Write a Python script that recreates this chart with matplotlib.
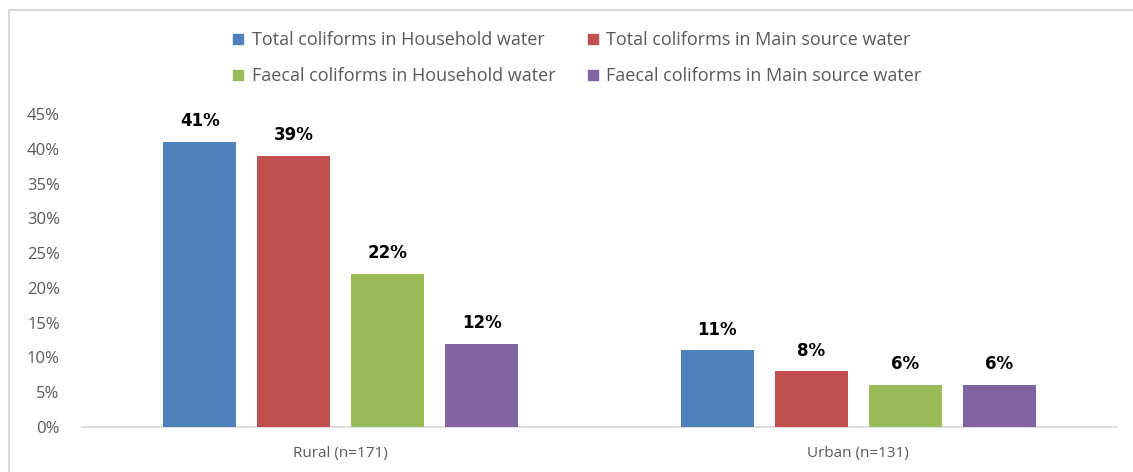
import matplotlib.pyplot as plt
import numpy as np
from matplotlib.lines import Line2D
from matplotlib.ticker import PercentFormatter

# coliform detection by setting
groups = ['Rural (n=171)', 'Urban (n=131)']
series = ['Total coliforms in Household water', 'Total coliforms in Main source water',
          'Faecal coliforms in Household water', 'Faecal coliforms in Main source water']
total_household = [0.41, 0.11]
total_source = [0.39, 0.08]
faecal_household = [0.22, 0.06]
faecal_source = [0.12, 0.06]
colors = ['#4F81BD', '#C0504D', '#9BBB59', '#8064A2']

plt.rcParams['font.family'] = ['Open Sans', 'DejaVu Sans']

fig = plt.figure(figsize=(11.33, 4.72), dpi=100)
ax = fig.add_axes([0.0724, 0.0953, 0.9136, 0.6632])

x = np.arange(len(groups))
width = 0.141
step = 0.1817
values = [total_household, total_source, faecal_household, faecal_source]
for i, (vals, c, name) in enumerate(zip(values, colors, series)):
    pos = x + (i - 1.5) * step
    bars = ax.bar(pos, vals, width, color=c, label=name, zorder=3)
    for b, v in zip(bars, vals):
        ax.text(b.get_x() + b.get_width() / 2, v + 0.017, f'{v*100:.0f}%',
                ha='center', va='bottom', fontsize=12, fontweight='bold',
                color='black', family='DejaVu Sans')

ax.set_xlim(-0.5, 1.5)
ax.set_ylim(0, 0.45)
ax.set_yticks(np.arange(0, 0.451, 0.05))
ax.yaxis.set_major_formatter(PercentFormatter(1.0, decimals=0))
ax.set_xticks(x)
ax.set_xticklabels(groups)
ax.tick_params(axis='both', length=0, colors='#595959')
ax.tick_params(axis='x', pad=14, labelsize=11)
ax.tick_params(axis='y', pad=16, labelsize=12)
for s in ['top', 'right', 'left']:
    ax.spines[s].set_visible(False)
ax.spines['bottom'].set_color('#D9D9D9')
ax.spines['bottom'].set_linewidth(1.2)

# legend filled row by row: matplotlib fills columns, so interleave
order = [0, 2, 1, 3]
handles = [Line2D([], [], marker='s', linestyle='', markersize=7, color=colors[k]) for k in order]
labels = [series[k] for k in order]
fig.legend(handles, labels, loc='center', bbox_to_anchor=(0.509, 0.877), ncol=2,
           frameon=False, fontsize=13, handlelength=0.7, handletextpad=0.4,
           columnspacing=1.7, labelspacing=1.0, labelcolor='#595959')

# outer chart border
fig.add_artist(Line2D([9 / 1133, 1], [1 - 10 / 472] * 2, color='#D9D9D9', lw=1.5,
                      transform=fig.transFigure))
fig.add_artist(Line2D([9 / 1133] * 2, [0, 1 - 10 / 472], color='#D9D9D9', lw=1.5,
                      transform=fig.transFigure))

fig.savefig('out.png', dpi=100)
